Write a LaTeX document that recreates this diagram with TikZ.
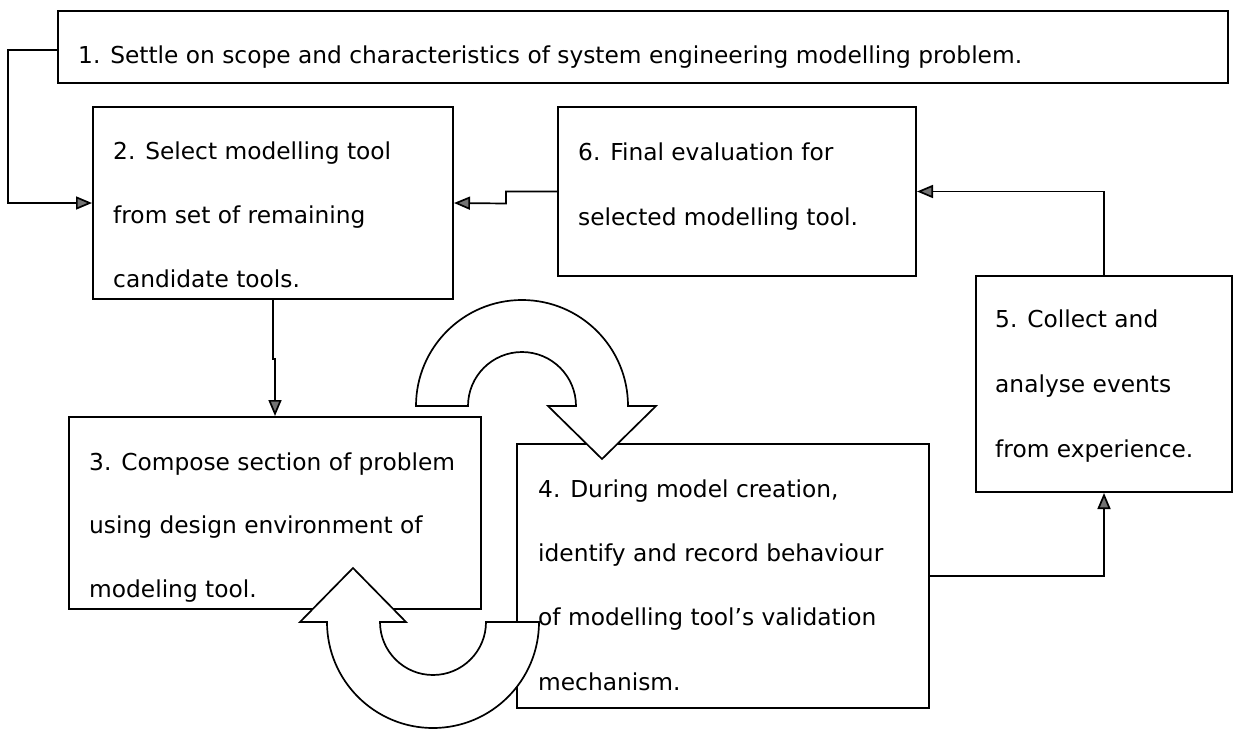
\documentclass[tikz,border=0pt]{standalone}
\usepackage{fontspec}
\setmainfont{DejaVu Sans}
\usetikzlibrary{arrows.meta}
\newcommand{\stagefont}{\fontsize{23.3pt}{27pt}\selectfont}

\begin{document}
\begin{tikzpicture}[x=1pt,y=-1pt,
  stage/.style={draw, line width=2pt, fill=white, inner sep=0pt, anchor=north west},
  txt/.style={anchor=base west, inner sep=0pt, font=\stagefont},
  conn/.style={line width=1.7pt, -{Triangle[length=16pt,width=13pt,fill=black!55]}},
  loop/.style={draw, line width=1.7pt, fill=white, line join=miter}]
\useasboundingbox (0,0) rectangle (1233,728);

% boxes
\node[stage, minimum width=1170pt, minimum height=72pt] (b1) at (57,10) {};
\node[stage, minimum width=360pt, minimum height=192pt] (b2) at (92,106) {};
\node[stage, minimum width=358pt, minimum height=169pt] (b6) at (557,106) {};
\node[stage, minimum width=256pt, minimum height=216pt] (b5) at (975,275) {};
\node[stage, minimum width=412pt, minimum height=192pt] (b3) at (68,416) {};
\node[stage, minimum width=412pt, minimum height=264pt] (b4) at (516,443) {};

% the two round arrows between 3 and 4
\path[loop] (416,406) arc[start angle=180, end angle=0, radius=106pt]
  -- (656,406) -- (602,459) -- (548,406) -- (576,406)
  arc[start angle=0, end angle=180, radius=54pt] -- cycle;
\path[loop] (539,622) arc[start angle=0, end angle=-180, radius=106pt]
  -- (300,622) -- (353,568) -- (406,622) -- (380,622)
  arc[start angle=180, end angle=360, radius=53pt] -- cycle;

% texts
\node[txt] (t11) at (78,63) {1. Settle on scope and characteristics of system engineering modelling problem.};

\node[txt] (t21) at (113,159) {2. Select modelling tool};
\node[txt] (t22) at (113,223) {from set of remaining};
\node[txt] (t23) at (113,287) {candidate tools.};

\node[txt] (t61) at (578,160) {6. Final evaluation for};
\node[txt] (t62) at (578,225) {selected modelling tool.};

\node[txt] (t51) at (995,327) {5. Collect and};
\node[txt] (t52) at (995,392) {analyse events};
\node[txt] (t53) at (995,457) {from experience.};

\node[txt] (t31) at (89,470) {3. Compose section of problem};
\node[txt] (t32) at (89,533) {using design environment of};
\node[txt] (t33) at (89,597) {modeling tool.};

\node[txt] (t41) at (538,497) {4. During model creation,};
\node[txt] (t42) at (538,561) {identify and record behaviour};
\node[txt] (t43) at (538,625) {of modelling tool’s validation};
\node[txt] (t44) at (538,690) {mechanism.};

% connectors
\draw[conn] ([yshift=-3pt]b1.west) -| ([xshift=-84pt]b2.west) -- (b2.west);
\draw[conn] (b6.west) -- ++(-51,0) -- ++(0,12) -- (b2.east);
\draw[conn] (b5.north) |- (b6.east);
\draw[conn] (b4.east) -| (b5.south);
\draw[conn] (b2.south) -- ++(0,59) -| (b3.north);
\end{tikzpicture}
\end{document}
